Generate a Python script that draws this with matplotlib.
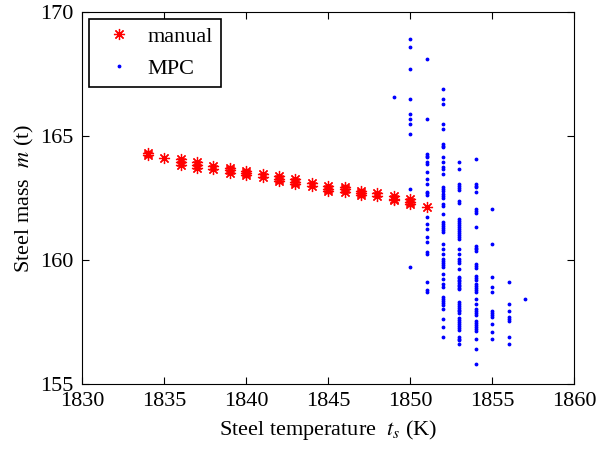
import matplotlib
matplotlib.use("Agg")
import matplotlib.pyplot as plt
import numpy as np

plt.rcParams['font.family'] = ['Liberation Serif', 'DejaVu Serif']
plt.rcParams['mathtext.fontset'] = 'stix'

# manual operation: (temperature, steel mass)
manual_temp = [1834, 1834, 1835, 1836, 1836, 1836, 1837, 1837, 1837, 1838, 1838,
               1839, 1839, 1839, 1840, 1840, 1840, 1841, 1841, 1842, 1842, 1842,
               1843, 1843, 1843, 1844, 1844, 1845, 1845, 1845, 1846, 1846, 1846,
               1847, 1847, 1847, 1848, 1848, 1849, 1849, 1849, 1850, 1850, 1850, 1851]
manual_mass = [164.33, 164.25, 164.13, 164.08, 163.95, 163.82, 163.95, 163.83, 163.72, 163.80, 163.68,
               163.72, 163.62, 163.52, 163.60, 163.50, 163.42, 163.45, 163.35, 163.38, 163.28, 163.18,
               163.25, 163.15, 163.05, 163.10, 163.00, 162.98, 162.88, 162.80, 162.95, 162.85, 162.76,
               162.80, 162.70, 162.62, 162.70, 162.60, 162.58, 162.47, 162.40, 162.45, 162.35, 162.27, 162.15]

# MPC results, one list of masses per temperature column
mpc_1849 = [166.57]
mpc_1850 = [168.90, 168.59, 167.69, 166.48, 165.88, 165.67, 165.47, 165.07, 162.85, 159.73]
mpc_1851 = [168.09, 165.67, 164.27, 164.19, 164.14, 163.94, 163.86, 163.55, 163.25, 163.05,
            162.75, 162.69, 162.62, 161.75, 161.44, 161.24, 160.94, 160.73, 160.34, 160.24,
            159.13, 158.79, 158.72]
mpc_1852 = [166.88, 166.48, 166.28, 165.47, 165.27, 164.68, 164.61, 164.54, 164.17, 163.96,
            163.76, 163.66, 163.45, 162.96, 162.88, 162.79, 162.66, 162.58, 162.51, 162.26,
            162.18, 161.84, 161.54, 161.46, 161.38, 161.30, 161.22, 161.14, 160.64, 160.43,
            160.23, 160.03, 159.95, 159.87, 159.79, 159.71, 159.42, 159.22, 159.02, 158.92,
            158.52, 158.44, 158.36, 158.28, 158.20, 158.01, 157.61, 157.31, 156.91]
mpc_1853 = [163.95, 163.66, 163.06, 162.98, 162.90, 162.82, 162.37, 162.29, 161.65, 161.57,
            161.49, 161.41, 161.33, 161.25, 161.17, 161.09, 161.01, 160.93, 160.84, 160.43,
            160.24, 160.03, 159.95, 159.87, 159.63, 159.33, 159.27, 159.20, 159.14, 159.07,
            159.00, 158.94, 158.87, 158.81, 158.32, 158.24, 158.16, 158.08, 158.00, 157.92,
            157.84, 157.65, 157.57, 157.49, 157.41, 157.33, 157.25, 157.17, 156.91, 156.83,
            156.75, 156.60]
mpc_1854 = [164.06, 163.06, 163.00, 162.93, 162.75, 162.04, 161.98, 161.91, 161.34, 160.56,
            160.50, 160.43, 160.36, 159.84, 159.76, 159.68, 159.35, 159.27, 159.19, 159.03,
            158.95, 158.87, 158.79, 158.71, 158.41, 158.23, 158.02, 157.94, 157.86, 157.78,
            157.53, 157.45, 157.37, 157.29, 157.21, 157.13, 156.80, 156.40, 155.79]
mpc_1855 = [162.04, 160.64, 159.33, 158.92, 158.71, 157.92, 157.85, 157.78, 157.71, 157.42,
            157.11, 156.80]
mpc_1856 = [159.13, 158.23, 157.92, 157.71, 157.62, 157.53, 156.91, 156.60]
mpc_1857 = [158.41]

mpc_columns = [(1849, mpc_1849), (1850, mpc_1850), (1851, mpc_1851), (1852, mpc_1852),
               (1853, mpc_1853), (1854, mpc_1854), (1855, mpc_1855), (1856, mpc_1856),
               (1857, mpc_1857)]
mpc_temp = np.concatenate([[t] * len(m) for t, m in mpc_columns])
mpc_mass = np.concatenate([m for t, m in mpc_columns])

fig = plt.figure(figsize=(6, 4.5), dpi=100)
ax = fig.add_axes([0.137, 0.147, 0.82, 0.826])

# MATLAB-style asterisk: 8 spokes
ax.plot(manual_temp, manual_mass, linestyle='none', marker=(8, 2, 0), color='red',
        markersize=8, markeredgewidth=0.9, label='manual')
ax.plot(mpc_temp, mpc_mass, linestyle='none', marker='.', color='blue',
        markersize=3.5, label='MPC')

ax.set_xlim(1830, 1860)
ax.set_ylim(155, 170)
ax.set_xticks(np.arange(1830, 1861, 5))
ax.set_yticks([155, 160, 165, 170])
ax.tick_params(direction='in', top=True, right=True, labelsize=16, length=5, width=0.8, pad=6)
for s in ax.spines.values():
    s.set_linewidth(0.8)

ax.set_xlabel(r'Steel temperature  $t_s$ (K)', fontsize=16, labelpad=5)
ax.set_ylabel(r'Steel mass  $m$ (t)', fontsize=16, labelpad=3)

leg = ax.legend(loc='upper left', fontsize=16, fancybox=False, framealpha=1,
                edgecolor='black', handlelength=2.0, handletextpad=0.3, borderpad=0.35,
                borderaxespad=0.3, labelspacing=0.5, markerscale=1.0)
leg.get_frame().set_linewidth(1.2)

fig.savefig('out.png', dpi=100)
